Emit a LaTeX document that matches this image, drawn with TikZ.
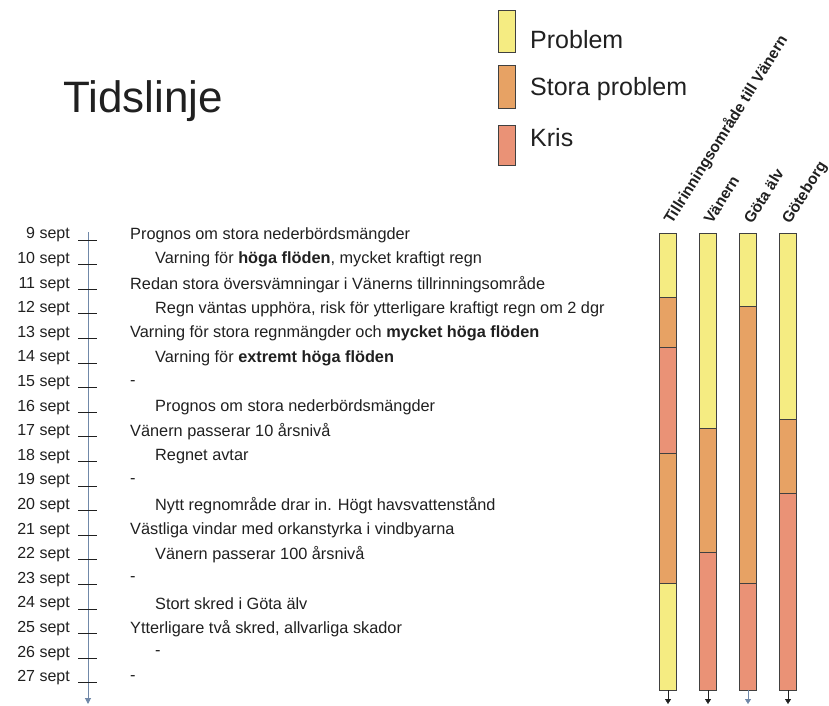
\documentclass[tikz,border=0pt]{standalone}
\usepackage{fontspec}
\setmainfont{Liberation Sans}
\usetikzlibrary{arrows.meta}

\definecolor{prob}{HTML}{F5EC82}
\definecolor{stor}{HTML}{E7A264}
\definecolor{kris}{HTML}{EA9276}
\definecolor{axis}{HTML}{7088A8}
\definecolor{ink}{HTML}{202020}

\tikzset{
  datum/.style = {anchor=east, inner sep=0pt, text=ink, font=\fontsize{16}{18}\selectfont},
  event/.style = {anchor=west, inner sep=0pt, text=ink, font=\fontsize{16.3}{18}\selectfont},
  region/.style = {anchor=base west, rotate=58, inner sep=0pt, text=ink, font=\bfseries\fontsize{15.5}{17}\selectfont},
  legend/.style = {anchor=west, inner sep=0pt, text=ink, font=\fontsize{25}{30}\selectfont},
  seg/.style = {draw=black!75, line width=0.9pt}
}

\begin{document}
\begin{tikzpicture}[x=1pt, y=-1pt]

\useasboundingbox (0,0) rectangle (829,705);

 \node[anchor=base west, inner sep=0pt, text=ink, font=\fontsize{44}{48}\selectfont] (title) at (63,112) {Tidslinje};

 % legend
 \filldraw[seg, fill=prob] (498,10) rectangle (515,52);
 \filldraw[seg, fill=stor] (498,65) rectangle (515,108);
 \filldraw[seg, fill=kris] (498,125) rectangle (515,165);
 \node[legend] (lprob) at (530,40) {Problem};
 \node[legend] (lstor) at (530,89) {Stora problem};
 \node[legend] (lkris) at (530,138) {Kris};

 % time axis
 \coordinate (axtop) at (88,232);
 \coordinate (axbot) at (88,704);
 \draw[axis, line width=1pt, -{Triangle[width=6pt, length=6pt]}] (axtop) -- (axbot);

  \foreach \txt [count=\d from 9, evaluate=\d as \ty using {235+(\d-9)*24.6}, evaluate=\d as \tx using {130+25*(1-mod(\d,2))}] in {
    {Prognos om stora nederbördsmängder},
    {Varning för \textbf{höga flöden}, mycket kraftigt regn},
    {Redan stora översvämningar i Vänerns tillrinningsområde},
    {Regn väntas upphöra, risk för ytterligare kraftigt regn om 2 dgr},
    {Varning för stora regnmängder och \textbf{mycket höga flöden}},
    {Varning för \textbf{extremt höga flöden}},
    {-},
    {Prognos om stora nederbördsmängder},
    {Vänern passerar 10 årsnivå},
    {Regnet avtar},
    {-},
    {Nytt regnområde drar in. Högt havsvattenstånd},
    {Västliga vindar med orkanstyrka i vindbyarna},
    {Vänern passerar 100 årsnivå},
    {-},
    {Stort skred i Göta älv},
    {Ytterligare två skred, allvarliga skador},
    {-},
    {-}} {
  \node[datum] (date\d) at (70,\ty) {\d\ sept};
  \draw[ink, line width=0.8pt] (78,\ty+5) -- (97,\ty+5);
  \node[event] (ev\d) at (\tx,\ty) {\txt};
}

 % bars
 \def\bx{668}
  \foreach \ya/\yb/\col in {233/297/prob, 297/347/stor, 347/453/kris, 453/583/stor, 583/690/prob}
    \filldraw[seg, fill=\col] (\bx-8.5,\ya) rectangle (\bx+8.5,\yb);
  \draw[ink, -{Triangle[width=6pt, length=5pt]}] (\bx,690) -- (\bx,704);
  \node[region] (tillr) at (\bx+4,225) {Tillrinningsområde till Vänern};

 \def\bx{708}
  \foreach \ya/\yb/\col in {233/428/prob, 428/552/stor, 552/690/kris}
    \filldraw[seg, fill=\col] (\bx-8.5,\ya) rectangle (\bx+8.5,\yb);
  \draw[ink, -{Triangle[width=6pt, length=5pt]}] (\bx,690) -- (\bx,704);
  \node[region] (vanern) at (\bx+4,225) {Vänern};

 \def\bx{748}
  \foreach \ya/\yb/\col in {233/306/prob, 306/583/stor, 583/690/kris}
    \filldraw[seg, fill=\col] (\bx-8.5,\ya) rectangle (\bx+8.5,\yb);
  \draw[axis, -{Triangle[width=6pt, length=5pt]}] (\bx,690) -- (\bx,704);
  \node[region] (gota) at (\bx+4,225) {Göta älv};

 \def\bx{788}
  \foreach \ya/\yb/\col in {233/419/prob, 419/493/stor, 493/690/kris}
    \filldraw[seg, fill=\col] (\bx-8.5,\ya) rectangle (\bx+8.5,\yb);
  \draw[ink, -{Triangle[width=6pt, length=5pt]}] (\bx,690) -- (\bx,704);
  \node[region] (gbg) at (\bx+2,225) {Göteborg};

\end{tikzpicture}
\end{document}
